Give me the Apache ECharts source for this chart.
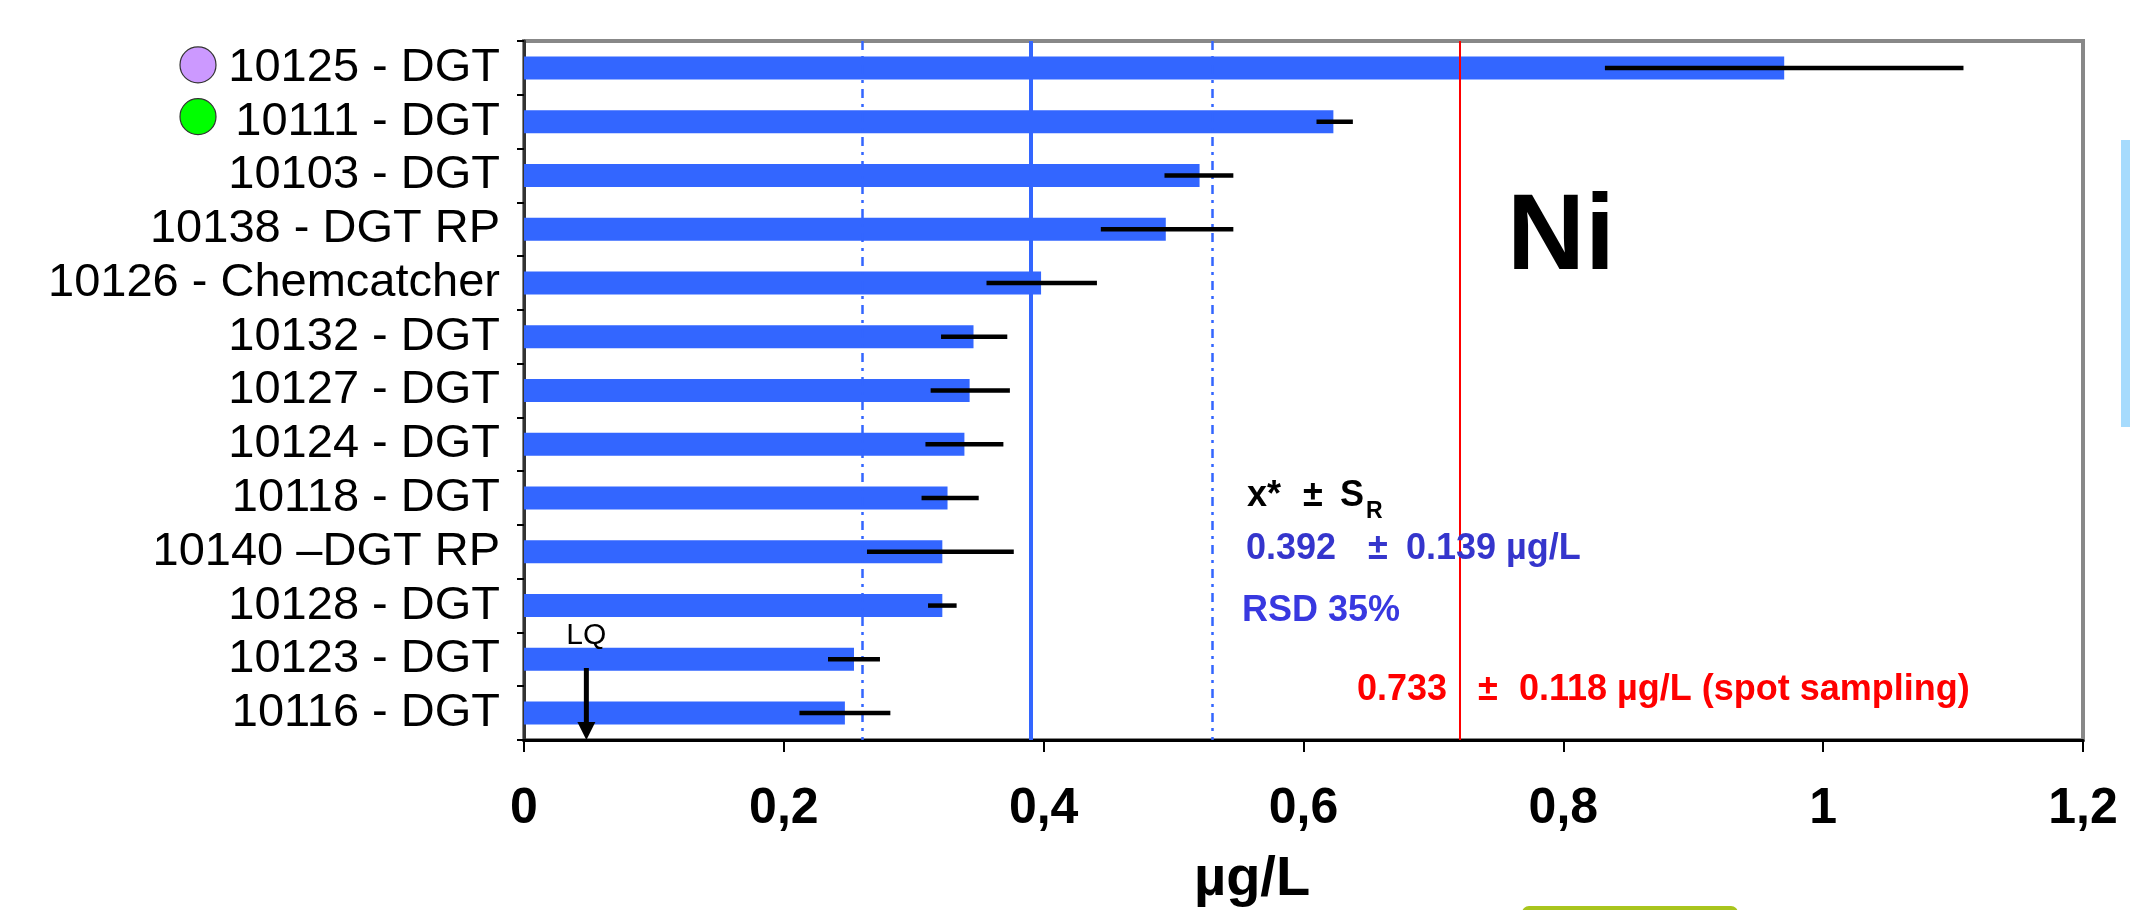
<!DOCTYPE html>
<html><head><meta charset="utf-8">
<script src="https://cdn.jsdelivr.net/npm/echarts/dist/echarts.min.js"></script>
<style>html,body{margin:0;padding:0;background:#fff}#c{width:2130px;height:910px}</style>
</head><body><div id="c"></div>
<script>
const categories = ['10125 - DGT','10111 - DGT','10103 - DGT','10138 - DGT RP','10126 - Chemcatcher','10132 - DGT','10127 - DGT','10124 - DGT','10118 - DGT','10140 \u2013DGT RP','10128 - DGT','10123 - DGT','10116 - DGT'];
const values  = [0.970, 0.623, 0.520, 0.494, 0.398, 0.346, 0.343, 0.339, 0.326, 0.322, 0.322, 0.254, 0.247];
const errLow  = [0.832, 0.610, 0.493, 0.444, 0.356, 0.321, 0.313, 0.309, 0.306, 0.264, 0.311, 0.234, 0.212];
const errHigh = [1.108, 0.638, 0.546, 0.546, 0.441, 0.372, 0.374, 0.369, 0.350, 0.377, 0.333, 0.274, 0.282];
const assignedValue = 0.392;
const limitLow = 0.256;
const limitHigh = 0.533;
const spotValue = 0.725;
const lqValue = 0.048;
const markedLabels = [{cat: '10125 - DGT', color: '#cc99ff'}, {cat: '10111 - DGT', color: '#00ff00'}];

const FONT = '"Liberation Sans", Arial, sans-serif';
const chart = echarts.init(document.getElementById('c'), null, {renderer: 'canvas'});

chart.setOption({
  animation: false,
  backgroundColor: '#ffffff',
  grid: {left: 524, right: 47, top: 41, bottom: 170, show: true, borderColor: '#888888', borderWidth: 4, containLabel: false, outerBoundsMode: 'none'},
  xAxis: {
    type: 'value', min: 0, max: 1.2, interval: 0.2,
    axisLine: {show: true, lineStyle: {color: '#000', width: 3}},
    axisTick: {show: true, length: 12, lineStyle: {color: '#000', width: 2}},
    splitLine: {show: false},
    axisLabel: {
      margin: 44, color: '#000', fontFamily: FONT, fontSize: 50, fontWeight: 'bold',
      formatter: v => String(Math.round(v * 10) / 10).replace('.', ',')
    }
  },
  yAxis: {
    type: 'category', data: categories, inverse: true,
    axisLine: {show: true, lineStyle: {color: '#333', width: 3}},
    axisTick: {show: true, length: 7, interval: 0, lineStyle: {color: '#000', width: 2}},
    axisLabel: {interval: 0, margin: 24, color: '#000', fontFamily: FONT, fontSize: 47, padding: [10, 0, 0, 0]}
  },
  series: [
    {
      type: 'bar', data: values, barWidth: 23,
      itemStyle: {color: '#3366ff'},
      z: 2,
      markLine: {
        silent: true, symbol: ['none', 'none'], label: {show: false},
        data: [
          {xAxis: limitLow, lineStyle: {color: '#3366ff', width: 2.5, type: [9, 6, 3, 6]}},
          {xAxis: limitHigh, lineStyle: {color: '#3366ff', width: 2.5, type: [9, 6, 3, 6]}},
          {xAxis: assignedValue, lineStyle: {color: '#3366ff', width: 4, type: 'solid'}},
          {xAxis: spotValue, lineStyle: {color: '#ff0000', width: 2, type: 'solid'}}
        ]
      }
    },
    {
      type: 'custom', z: 5,
      data: categories.map((c, i) => [i, errLow[i], errHigh[i]]),
      encode: {y: 0, x: [1, 2]},
      renderItem: (params, api) => {
        const idx = api.value(0);
        const a = api.coord([api.value(1), idx]);
        const b = api.coord([api.value(2), idx]);
        return {type: 'line', shape: {x1: a[0], y1: a[1], x2: b[0], y2: b[1]}, style: {stroke: '#000', lineWidth: 4.5}};
      }
    }
  ]
});

function txt(text, x, y, size, color, weight, align) {
  return {type: 'text', z: 20, style: {text: text, x: x, y: y, fill: color, font: (weight || 'bold') + ' ' + size + 'px ' + FONT, align: align || 'left', verticalAlign: 'middle'}};
}
const lqX = chart.convertToPixel({xAxisIndex: 0}, lqValue);
const graphics = [];
markedLabels.forEach((m, k) => {
  const cy = chart.convertToPixel({yAxisIndex: 0}, m.cat);
  graphics.push({type: 'circle', z: 20, shape: {cx: 198, cy: cy - 3 - 2 * k, r: 18}, style: {fill: m.color, stroke: '#333', lineWidth: 1.2}});
});
graphics.push(
  {type: 'line', z: 20, shape: {x1: lqX, y1: 668, x2: lqX, y2: 724}, style: {stroke: '#000', lineWidth: 5}},
  {type: 'polygon', z: 20, shape: {points: [[lqX - 9, 722], [lqX + 9, 722], [lqX, 740]]}, style: {fill: '#000'}},
  txt('LQ', lqX, 636, 30, '#000', 'normal', 'center'),
  txt('Ni', 1507, 239, 108, '#000'),
  txt('x*', 1247, 496, 36, '#000'),
  txt('\u00b1', 1303, 496, 36, '#000'),
  txt('S', 1340, 496, 36, '#000'),
  txt('R', 1366, 512, 23, '#000'),
  txt('0.392', 1246, 549, 36, '#3535cc'),
  txt('\u00b1', 1368, 549, 36, '#3535cc'),
  txt('0.139 \u00b5g/L', 1406, 549, 36, '#3535cc'),
  txt('RSD 35%', 1242, 611, 36, '#3838e0'),
  txt('0.733', 1357, 690, 36, '#ff0000'),
  txt('\u00b1', 1478, 690, 36, '#ff0000'),
  txt('0.118 \u00b5g/L (spot sampling)', 1519, 690, 36, '#ff0000'),
  txt('\u00b5g/L', 1252, 880, 56, '#000', 'bold', 'center'),
  {type: 'rect', z: 20, shape: {x: 2121, y: 140, width: 20, height: 287}, style: {fill: '#a6dbfd'}},
  {type: 'rect', z: 20, shape: {x: 1522, y: 906, width: 216, height: 14, r: 8}, style: {fill: '#a9c51d'}}
);
chart.setOption({graphic: graphics});
</script>
</body></html>
